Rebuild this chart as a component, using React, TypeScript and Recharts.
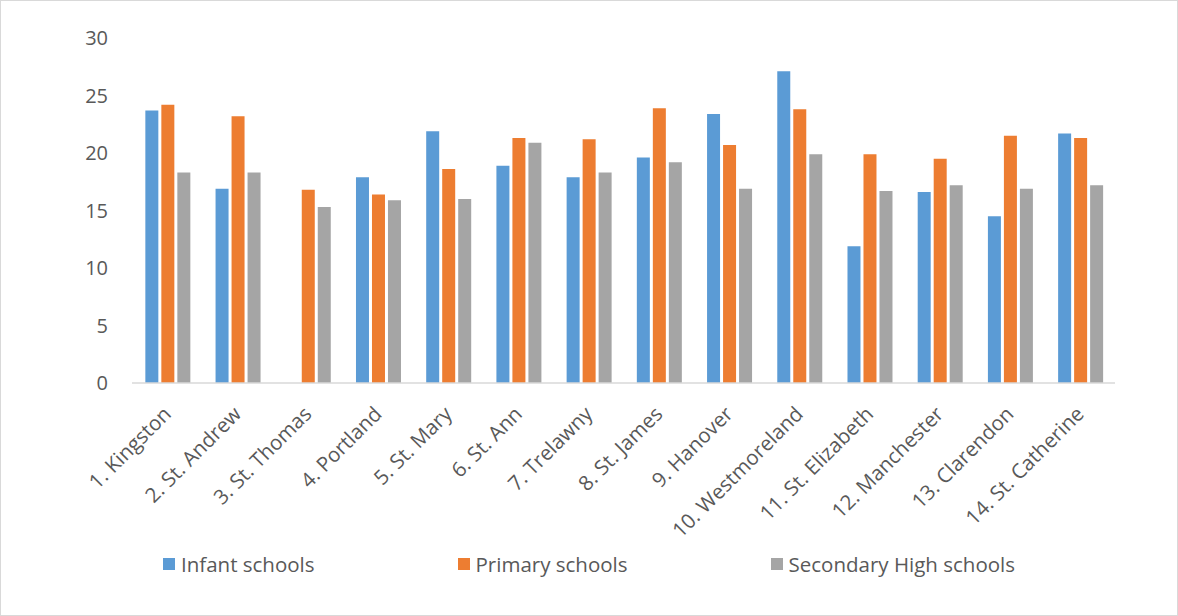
import { BarChart, Bar, XAxis, YAxis } from "recharts";

// Pupil-teacher style ratios by parish, three school types
const parishes = [
  "1. Kingston",
  "2. St. Andrew",
  "3. St. Thomas",
  "4. Portland",
  "5. St. Mary",
  "6. St. Ann",
  "7. Trelawny",
  "8. St. James",
  "9. Hanover",
  "10. Westmoreland",
  "11. St. Elizabeth",
  "12. Manchester",
  "13. Clarendon",
  "14. St. Catherine",
];

const infant = [23.7, 16.9, null, 17.9, 21.9, 18.9, 17.9, 19.6, 23.4, 27.1, 11.9, 16.6, 14.5, 21.7];
const primary = [24.2, 23.2, 16.8, 16.4, 18.6, 21.3, 21.2, 23.9, 20.7, 23.8, 19.9, 19.5, 21.5, 21.3];
const secondary = [18.3, 18.3, 15.3, 15.9, 16.0, 20.9, 18.3, 19.2, 16.9, 19.9, 16.7, 17.2, 16.9, 17.2];

const yTicks = [0, 5, 10, 15, 20, 25, 30];

const series = [
  { key: "infant", name: "Infant schools", color: "#5b9bd5" },
  { key: "primary", name: "Primary schools", color: "#ed7d31" },
  { key: "secondary", name: "Secondary High schools", color: "#a5a5a5" },
];

const data = parishes.map((p, i) => ({
  parish: p,
  infant: infant[i],
  primary: primary[i],
  secondary: secondary[i],
}));

const FONT = "'Open Sans', sans-serif";
const TEXT = "#595959";

export default function App() {
  return (
    <div
      style={{
        position: "fixed",
        left: 0,
        top: 0,
        width: 1178,
        height: 616,
        background: "#fff",
        border: "1px solid #d9d9d9",
        boxSizing: "border-box",
        fontFamily: FONT,
      }}
    >
      <div style={{ position: "absolute", left: -1, top: -1 }}>
        <BarChart
          width={1178}
          height={616}
          data={data}
          margin={{ top: 38, right: 63, bottom: 0, left: 0 }}
          barCategoryGap="19%"
          barGap={3}
        >
          <XAxis
            dataKey="parish"
            interval={0}
            height={233}
            tickLine={false}
            tickSize={0}
            tickMargin={22}
            stroke="#d9d9d9"
            strokeWidth={1.5}
            angle={-45}
            textAnchor="end"
            tick={{ fill: TEXT, fontSize: 20.5, fontFamily: FONT, dx: -5 }}
          />
          <YAxis
            width={132}
            domain={[0, 30]}
            ticks={yTicks}
            axisLine={false}
            tickLine={false}
            tickSize={0}
            tickMargin={24}
            tick={{ fill: TEXT, fontSize: 20, fontFamily: FONT }}
          />
          {series.map((s) => (
            <Bar
              key={s.key}
              dataKey={s.key}
              name={s.name}
              fill={s.color}
              isAnimationActive={false}
            />
          ))}
        </BarChart>
      </div>
      <div
        style={{
          position: "absolute",
          left: 0,
          right: 0,
          top: 549,
          display: "flex",
          justifyContent: "center",
          gap: 143,
          color: TEXT,
          fontSize: 20.5,
        }}
      >
        {series.map((s) => (
          <div key={s.key} style={{ display: "flex", alignItems: "center" }}>
            <span
              style={{
                width: 12,
                height: 12,
                background: s.color,
                marginRight: 6,
                display: "inline-block",
              }}
            />
            <span>{s.name}</span>
          </div>
        ))}
      </div>
    </div>
  );
}
